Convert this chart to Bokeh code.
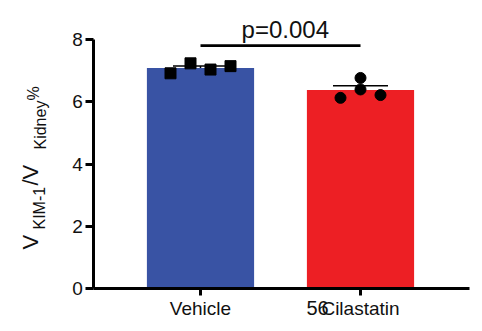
import math
import numpy as np
from bokeh.plotting import figure
from bokeh.models import (ColumnDataSource, Range1d, FixedTicker, Whisker, TeeHead, Label,
                          LinearAxis)
from bokeh.embed import file_html
from bokeh.resources import INLINE

# ---- data ----
groups = ["Vehicle", "Cilastatin"]
vehicle_vals = [6.92, 7.24, 7.04, 7.15]
cilastatin_vals = [6.13, 6.40, 6.77, 6.22]
y_ticks = [0, 2, 4, 6, 8]
p_value_text = "p=0.004"
stray_label = "56"

# ---- layout / style ----
FONT = "Liberation Sans"
blue = "#3953A4"
red = "#ED1F24"
group_pos = [1, 2]
vehicle_jitter = [-0.1875, -0.0625, 0.0625, 0.1875]
cilastatin_jitter = [-0.125, 0.0, 0.0, 0.125]

W, H = 480, 329
PX_PER_X = 160.0   # pixels per x unit
PX_PER_Y = 31.1    # pixels per y unit
X1_PX, Y0_PX = 200.0, 288.0  # page pixel of x=1 and y=0


def px2x(px):
    return 1 + (px - X1_PX) / PX_PER_X


def py2y(py):
    return (Y0_PX - py) / PX_PER_Y


def stats(v):
    a = np.array(v, dtype=float)
    m = a.mean()
    sem = a.std(ddof=1) / math.sqrt(len(a))
    return m, sem


means, sems = zip(*[stats(vehicle_vals), stats(cilastatin_vals)])

p = figure(width=W, height=H, output_backend="svg", toolbar_location=None,
           x_range=Range1d(px2x(0), px2x(W)), y_range=Range1d(py2y(H), py2y(0)),
           x_axis_location=None, y_axis_location=None,
           min_border_left=0, min_border_right=0, min_border_top=0, min_border_bottom=0)
p.outline_line_color = None
p.grid.visible = False
p.background_fill_color = "white"
p.border_fill_color = "white"

bars = ColumnDataSource(dict(x=group_pos, top=list(means), color=[blue, red]))
p.vbar(x="x", top="top", width=0.67, bottom=0, color="color", line_color=None, source=bars)

# error bars
err = ColumnDataSource(dict(x=group_pos, lo=[m - s for m, s in zip(means, sems)],
                            hi=[m + s for m, s in zip(means, sems)]))
w = Whisker(base="x", lower="lo", upper="hi", source=err, line_color="black", line_width=1.5,
            upper_head=TeeHead(size=55, line_color="black", line_width=1.5),
            lower_head=TeeHead(size=55, line_color="black", line_width=1.5))
p.add_layout(w)

# points
p.scatter([group_pos[0] + j for j in vehicle_jitter], vehicle_vals, marker="square",
          size=11, color="black")
p.scatter([group_pos[1] + j for j in cilastatin_jitter], cilastatin_vals, marker="circle",
          size=11, color="black")

# significance line + text
p.segment(x0=[group_pos[0]], x1=[group_pos[1]], y0=[7.81], y1=[7.81], line_width=2.7,
          line_color="black")
p.add_layout(Label(x=1.53, y=8.33, text=p_value_text, text_align="center",
                   text_baseline="alphabetic", text_font=FONT, text_font_size="24px",
                   text_color="#111111"))

# axes drawn at fixed locations inside the frame
xaxis = LinearAxis(fixed_location=0, ticker=FixedTicker(ticks=group_pos),
                   major_label_overrides={gp: g for gp, g in zip(group_pos, groups)},
                   bounds=(px2x(93), px2x(469)))
yaxis = LinearAxis(fixed_location=px2x(93.3), ticker=FixedTicker(ticks=y_ticks),
                   bounds=(0, 8))
for ax in (xaxis, yaxis):
    ax.axis_line_width = 3
    ax.axis_line_color = "black"
    ax.major_tick_line_width = 3
    ax.major_tick_line_color = "black"
    ax.major_tick_in = 0
    ax.minor_tick_line_color = None
    ax.major_label_text_font = FONT
    ax.major_label_text_font_size = "19px"
    ax.major_label_text_color = "#111111"
xaxis.major_tick_out = 7
xaxis.major_label_standoff = 2
yaxis.major_tick_out = 8
yaxis.major_label_standoff = 3
p.add_layout(xaxis, "below")
p.add_layout(yaxis, "left")

# stray overlapping label
p.add_layout(Label(x=px2x(306), y=py2y(307), text=stray_label, text_align="left",
                   text_baseline="alphabetic", text_font=FONT, text_font_size="20px",
                   text_color="#111111"))

# y-axis title with subscripts (rotated)
pieces = [
    ("V", 30, 249, "22px"),
    ("KIM-1", 39, 229, "16px"),
    ("/V", 30, 185, "22px"),
    ("Kidney", 40, 149, "16px"),
    ("%", 33, 100, "16px"),
]
for txt, bx, by, fs in pieces:
    p.add_layout(Label(x=px2x(bx), y=py2y(by), text=txt, angle=math.pi / 2,
                       text_align="left", text_baseline="alphabetic", text_font=FONT,
                       text_font_size=fs, text_color="#111111"))

open("out.html", "w").write(file_html(p, INLINE))
